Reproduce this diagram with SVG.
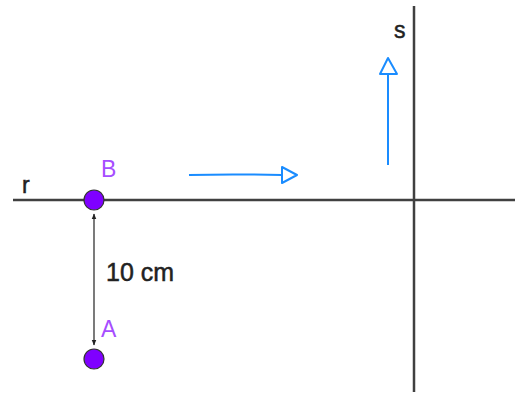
<svg xmlns="http://www.w3.org/2000/svg" width="525" height="396" viewBox="0 0 525 396">
<style>
.axis{stroke:#404040;stroke-width:2.5;fill:none}
.blue{stroke:#1a8cff;stroke-width:2;fill:none;stroke-linejoin:round}
.pt{fill:#7f00ff;stroke:#333;stroke-width:1.2}
.lbl{font-family:"Liberation Sans",Arial,sans-serif;font-size:23px;fill:#222;stroke:#222;stroke-width:0.5}
.plbl{font-family:"Liberation Sans",Arial,sans-serif;font-size:23px;fill:#a64dff}
</style>
<defs>
<marker id="ah" viewBox="0 0 10 10" refX="9" refY="5" markerWidth="6" markerHeight="6" orient="auto-start-reverse" markerUnits="userSpaceOnUse">
<path d="M0,1 L10,5 L0,9 Z" fill="#222"/>
</marker>
</defs>
<g id="connectors">
<line class="axis" x1="13" y1="200" x2="515" y2="200"/>
<line class="axis" x1="414" y1="6" x2="414" y2="392"/>
<line x1="94" y1="214" x2="94" y2="345" stroke="#333" stroke-width="1.3" marker-start="url(#ah)" marker-end="url(#ah)"/>
<path class="blue" d="M189,175 Q230,174 282,175"/>
<path class="blue" d="M282,167 L297,175 L282,183 Z"/>
<path class="blue" d="M388,165 L388,74"/>
<path class="blue" d="M380,74 L388,58 L397,74 Z"/>
</g>
<g id="r"><text class="lbl" x="22" y="193">r</text></g>
<g id="s"><text class="lbl" x="394" y="38">s</text></g>
<g id="B"><circle class="pt" cx="94" cy="200" r="10"/><text class="plbl" x="101" y="177">B</text></g>
<g id="A"><circle class="pt" cx="94" cy="359" r="10"/><text class="plbl" x="101" y="337">A</text></g>
<g id="dist"><text class="lbl" x="106" y="281" style="font-size:25px">10 cm</text></g>
</svg>
